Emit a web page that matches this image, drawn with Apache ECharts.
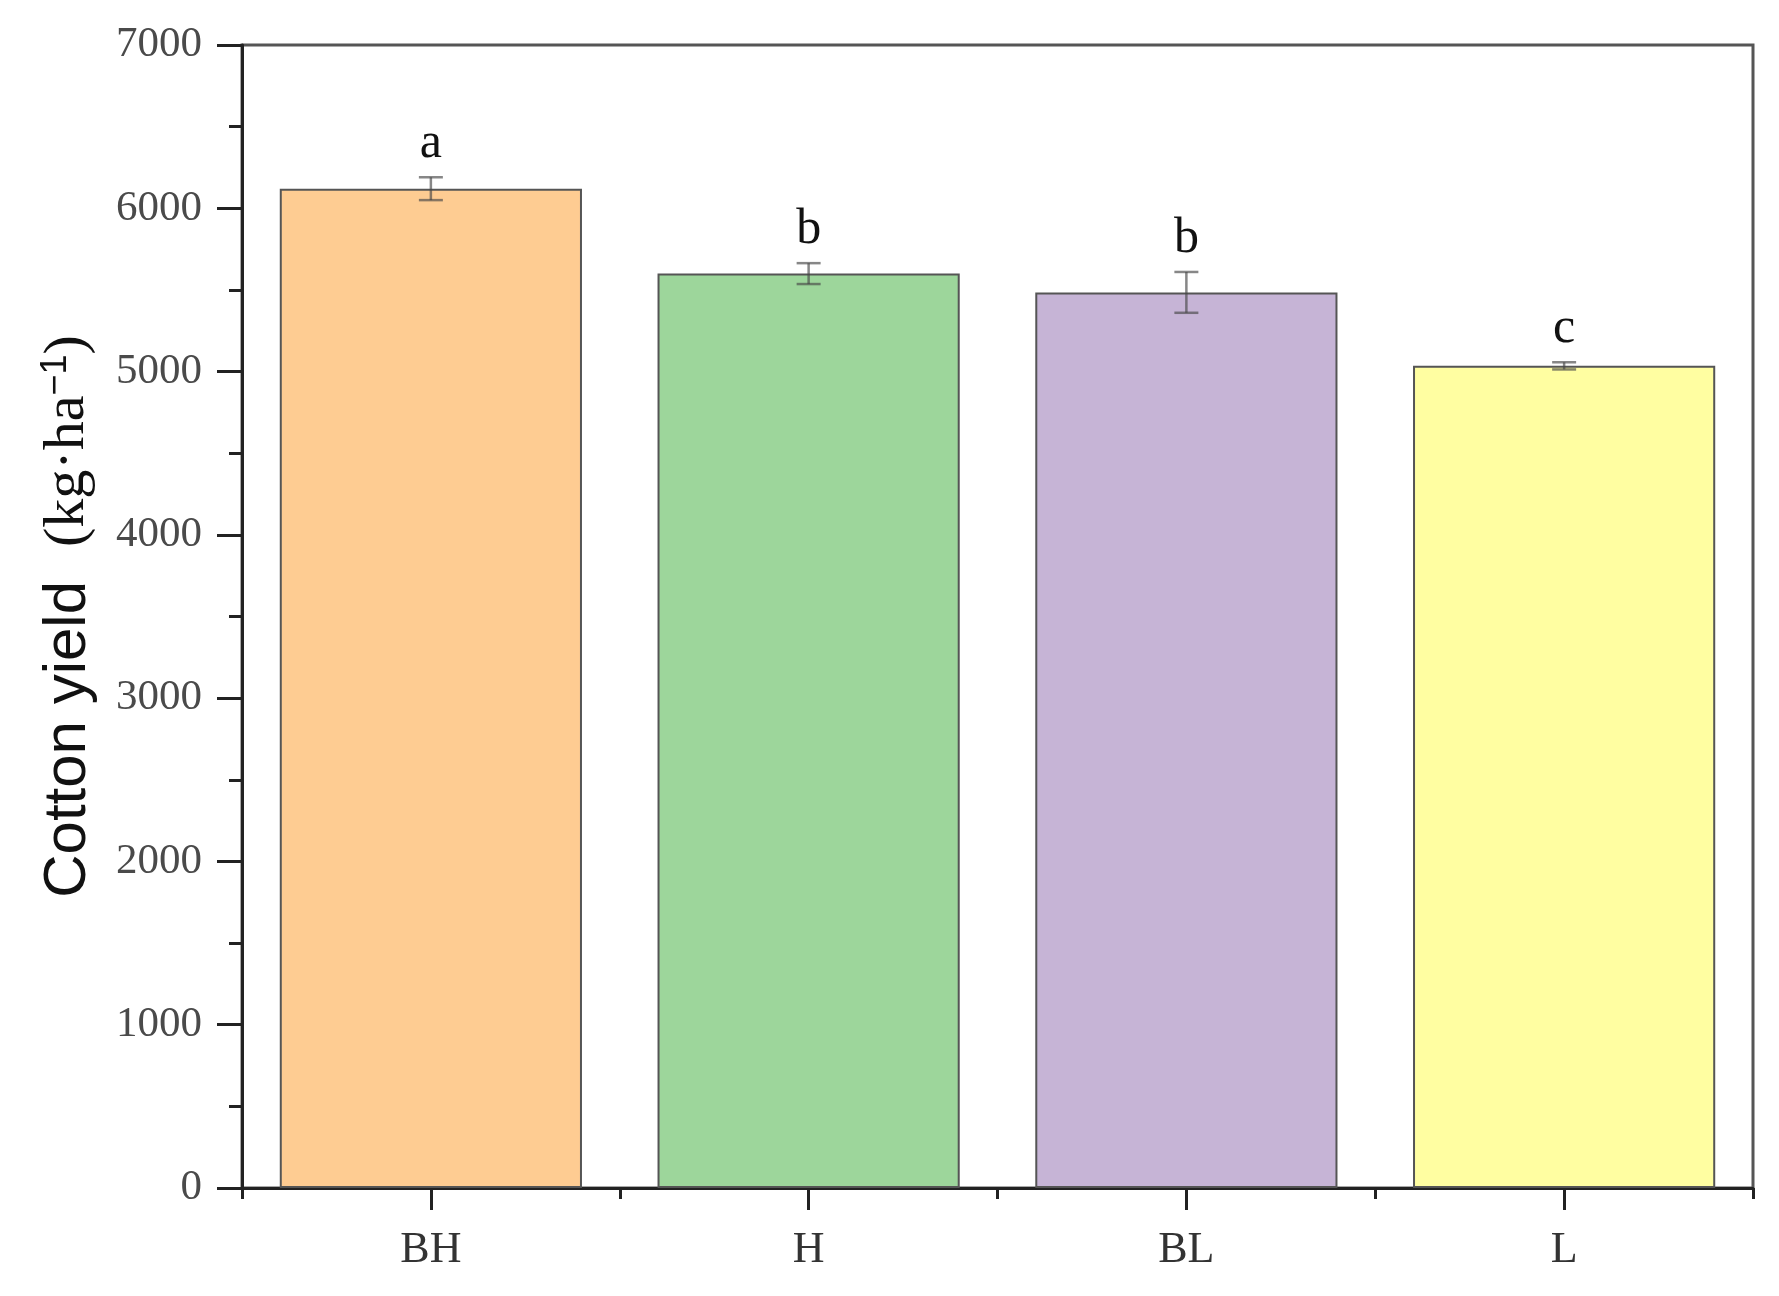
<!DOCTYPE html>
<html>
<head>
<meta charset="utf-8">
<script src="https://cdn.jsdelivr.net/npm/echarts@6/dist/echarts.min.js"></script>
<style>
  html, body { margin: 0; padding: 0; background: #fff; }
  #chart { width: 1779px; height: 1296px; }
</style>
</head>
<body>
<div id="chart"></div>
<script>
// data
const categories = ['BH', 'H', 'BL', 'L']
const yieldMeans = [6120, 5600, 5485, 5035]
const yieldErrors = [70, 64, 125, 22]
const groupLetters = ['a', 'b', 'b', 'c']
const barColors = ['#FECC92', '#9DD69B', '#C6B4D6', '#FFFEA1']

const serif = 'Liberation Serif'
const chart = echarts.init(document.getElementById('chart'))

const errData = categories.map((c, i) => [i, yieldMeans[i], yieldErrors[i]])

chart.setOption({
  animation: false,
  grid: {
    left: 242, right: 26, top: 45, bottom: 108,
    show: true, borderColor: '#555', borderWidth: 3
  },
  xAxis: [
    {
      type: 'category',
      data: categories,
      axisLine: { lineStyle: { color: '#222', width: 3 } },
      axisTick: { show: true, alignWithLabel: true, length: 22, lineStyle: { color: '#222', width: 3 } },
      axisLabel: { fontFamily: serif, fontSize: 44, color: '#333', margin: 40 }
    },
    {
      // short ticks between the categories
      type: 'category',
      data: categories,
      position: 'bottom',
      axisLine: { show: false },
      axisTick: { show: true, length: 11, lineStyle: { color: '#222', width: 3 } },
      axisLabel: { show: false }
    }
  ],
  yAxis: {
    type: 'value',
    min: 0, max: 7000, interval: 1000,
    name: '{a|Cotton yield}{b|(kg·ha}{c|−1}{d|)}',
    nameLocation: 'middle',
    nameRotate: 90,
    nameGap: 144,
    nameTextStyle: {
      rich: {
        a: { fontFamily: 'Liberation Sans', fontSize: 60, color: '#111' },
        b: { fontFamily: serif, fontSize: 58, color: '#111', padding: [0, 0, 0, 34] },
        c: { fontFamily: 'Liberation Sans', fontSize: 36, color: '#111', verticalAlign: 'top' },
        d: { fontFamily: serif, fontSize: 58, color: '#111' }
      }
    },
    axisLine: { show: true, lineStyle: { color: '#222', width: 3 } },
    axisTick: { show: true, length: 25, lineStyle: { color: '#222', width: 3 } },
    minorTick: { show: true, splitNumber: 2, length: 13, lineStyle: { color: '#222', width: 3 } },
    splitLine: { show: false },
    axisLabel: {
      fontFamily: serif, fontSize: 43, color: '#4a4a4a', margin: 40,
      formatter: v => String(v)
    }
  },
  series: [
    {
      type: 'bar',
      barWidth: '80%',
      data: yieldMeans.map((v, i) => ({
        value: v,
        itemStyle: { color: barColors[i], borderColor: '#555', borderWidth: 2 }
      }))
    },
    {
      type: 'custom',
      z: 5,
      data: errData,
      renderItem: function (params, api) {
        const x = api.value(0)
        const mean = api.value(1)
        const err = api.value(2)
        const top = api.coord([x, mean + err])
        const bot = api.coord([x, mean - err])
        const cap = 12
        const style = { stroke: 'rgba(70,70,70,0.65)', lineWidth: 2.5 }
        return {
          type: 'group',
          children: [
            { type: 'line', shape: { x1: top[0], y1: top[1], x2: bot[0], y2: bot[1] }, style: style },
            { type: 'line', shape: { x1: top[0] - cap, y1: top[1], x2: top[0] + cap, y2: top[1] }, style: style },
            { type: 'line', shape: { x1: bot[0] - cap, y1: bot[1], x2: bot[0] + cap, y2: bot[1] }, style: style },
            {
              type: 'text',
              x: top[0], y: top[1] - 8,
              style: {
                text: groupLetters[params.dataIndex],
                fontFamily: serif, fontSize: 50, fill: '#111',
                align: 'center', verticalAlign: 'bottom'
              }
            }
          ]
        }
      }
    }
  ]
})
</script>
</body>
</html>
